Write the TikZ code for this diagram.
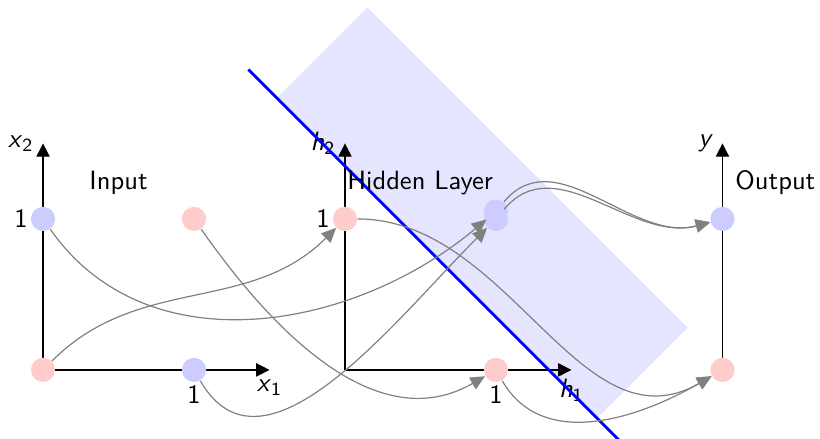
\documentclass[tikz,border=0pt]{standalone}
\usetikzlibrary{arrows.meta}
\newcommand{\mvar}[2]{$\textsf{\textit{#1}}_{\mathsf{#2}}$}
\begin{document}
\begin{tikzpicture}[x=2cm,y=2cm,font=\sffamily,
  pinknode/.style={circle,fill=red!20,minimum size=0.32cm,inner sep=0pt},
  bluenode/.style={circle,fill=blue!20,minimum size=0.32cm,inner sep=0pt},
  axisline/.style={black,line width=0.5pt,-{Triangle[length=5pt,width=5pt]}},
  conn/.style={gray,line width=0.45pt,-{Triangle[length=5.5pt,width=5pt]}},
  sep/.style={blue,line width=1.1pt},
  shade/.style={fill=blue!10},
  numlab/.style={label distance=-2.5pt}]
\clip (-0.285,-0.457) rectangle (5.146,2.45);
% shaded band
\fill[shade] (1.55,1.80) -- (2.15,2.40) -- (4.27,0.28) -- (3.67,-0.32) -- cycle;
% axes
\coordinate (io) at (0,0);
\coordinate (ix) at (1.5,0);
\coordinate (iy) at (0,1.5);
\coordinate (ho) at (2,0);
\coordinate (hx) at (3.5,0);
\coordinate (hy) at (2,1.5);
\coordinate (oo) at (4.5,0);
\coordinate (oy) at (4.5,1.5);
\draw[axisline] (io) -- (ix) node[below] {\mvar{x}{1}};
\draw[axisline] (io) -- (iy) node[left] {\mvar{x}{2}};
\draw[axisline] (ho) -- (hx) node[below] {\mvar{h}{1}};
\draw[axisline] (ho) -- (hy) node[left] {\mvar{h}{2}};
\draw[axisline] (oo) -- (oy) node[left] {$\textsf{\textit{y}}$};
% separating line
\coordinate (s1) at (1.36,1.99);
\coordinate (s2) at (3.85,-0.5);
\draw[sep] (s1) -- (s2);
% titles
\node (tin) at (0.5,1.238) {Input};
\node[anchor=west,inner sep=1pt] (thid) at (1.995,1.238) {Hidden Layer};
\node[anchor=west,inner sep=1pt] (tout) at (4.565,1.238) {Output};
% nodes
\node[pinknode] (i00) at (0,0) {};
\node[bluenode,label={[numlab]below:1}] (i10) at (1,0) {};
\node[bluenode,label={[numlab]left:1}] (i01) at (0,1) {};
\node[pinknode] (i11) at (1,1) {};
\node[pinknode,label={[numlab]left:1}] (h01) at (2,1) {};
\node[pinknode,label={[numlab]below:1}] (h10) at (3,0) {};
\node[bluenode] (hb1) at (3,1) {};
\node[bluenode] (hb2) at (3,1.05) {};
\node[pinknode] (o0) at (4.5,0) {};
\node[bluenode] (o1) at (4.5,1) {};
% connections
\draw[conn] (i00) to[out=45,in=-135] (h01);
\draw[conn] (i10) to[out=-60,in=-135] (hb1);
\draw[conn] (i01) to[out=-55,in=-140] (hb2);
\draw[conn] (i11) to[out=-55,in=-150] (h10);
\draw[conn] (h01) to[out=0,in=-150] (o0);
\draw[conn] (h10) to[out=-60,in=-150] (o0);
\draw[conn] (hb1) to[out=50,in=-165] (o1);
\draw[conn] (hb2) to[out=50,in=-165] (o1);
\end{tikzpicture}
\end{document}
